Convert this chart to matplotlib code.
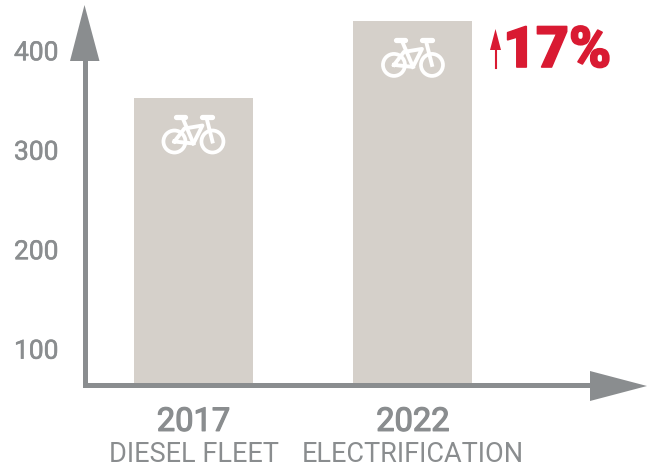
import matplotlib
matplotlib.use("Agg")
import matplotlib.pyplot as plt
import matplotlib.patheffects as pe
from matplotlib.lines import Line2D
from matplotlib.patches import Circle, Polygon
from matplotlib.transforms import Affine2D

# Data
years = ["2017", "2022"]
fleets = ["DIESEL FLEET", "ELECTRIFICATION"]
values = [353, 430]
y_ticks = [100, 200, 300, 400]
change_label = "17%"

# Colors
BAR = "#d5d0ca"
GREY = "#8a8d8f"
RED = "#d91a32"

W, H = 652, 467

plt.rcParams["font.family"] = ["Roboto", "DejaVu Sans"]

fig = plt.figure(figsize=(W / 100, H / 100), dpi=100, facecolor="white")
# axes box in pixels, measured from the top left
left, right, top, bottom = 85, 645, 5, 385
ax = fig.add_axes([left / W, 1 - bottom / H, (right - left) / W, (bottom - top) / H])
ax.set_xlim(-0.494, 2.057)
ax.set_ylim(64, 446)
ax.patch.set_visible(False)

ax.bar(range(len(values)), values, width=0.542, color=BAR, zorder=1)

for side in ["top", "right"]:
    ax.spines[side].set_visible(False)
for side in ["left", "bottom"]:
    ax.spines[side].set_color(GREY)
    ax.spines[side].set_linewidth(3.6)
    ax.spines[side].set_zorder(3)
# stop the axis lines inside the arrow heads
ax.spines["left"].set_bounds(64, 400)
ax.spines["bottom"].set_bounds(-0.494, 1.85)

ax.set_yticks(y_ticks)
ax.set_yticklabels([str(t) for t in y_ticks], fontsize=19, color=GREY)
ax.tick_params(axis="y", length=0, pad=19)
ax.set_xticks(range(len(years)))
ax.set_xticklabels(years, fontsize=23.5, color=GREY)
ax.tick_params(axis="x", length=0, pad=15)

# the reference digits are a bit heavier than regular Roboto
for label in ax.get_yticklabels():
    label.set_path_effects([pe.withStroke(linewidth=0.4, foreground=GREY)])
for label in ax.get_xticklabels():
    label.set_path_effects([pe.withStroke(linewidth=0.9, foreground=GREY)])


def px(x, y):
    # pixel position from the top left, to figure coordinates
    return (x / W, 1 - y / H)


# Axis arrow heads
fig.add_artist(Polygon([px(84.5, 5), px(70, 61), px(99.5, 61)], closed=True,
                       transform=fig.transFigure, color=GREY, lw=0))
fig.add_artist(Polygon([px(647, 386), px(590, 371), px(590, 401)], closed=True,
                       transform=fig.transFigure, color=GREY, lw=0))

# Fleet captions under the years
for i, name in enumerate(fleets):
    ax.annotate(name, xy=(i, 0), xycoords=ax.get_xaxis_transform(), xytext=(0, -70),
                textcoords="offset pixels", ha="center", va="center",
                fontsize=19.5, color=GREY, annotation_clip=False)


def draw_bike(cx, cy):
    # small bicycle icon, units are pixels around the icon centre, y down
    tr = Affine2D().scale(1, -1).translate(cx, cy)
    for wx in [-19, 19]:
        fig.add_artist(Circle((wx, 10), 11, transform=tr, fill=False, ec="white", lw=2.7))
    frame = [
        [(-19, 10), (-9, -3), (9, -6), (0, 12), (-19, 10)],
        [(-11, -14), (0, 12)],
        [(13, -14), (19, 10)],
    ]
    for seg in frame:
        xs, ys = zip(*seg)
        fig.add_artist(Line2D(xs, ys, transform=tr, color="white", lw=2.8))
    for seg in [[(-17, -15), (-8, -15)], [(9, -15), (19, -15)]]:
        xs, ys = zip(*seg)
        fig.add_artist(Line2D(xs, ys, transform=tr, color="white", lw=3.8,
                              solid_capstyle="round"))


fig.canvas.draw()
for i, v in enumerate(values):
    x_d, y_d = ax.transData.transform((i, v))
    draw_bike(x_d, y_d - 34)

# Change callout, next to the taller bar
fig.text(*px(503, 67), change_label, fontsize=41, color=RED, weight=900,
         ha="left", va="baseline",
         path_effects=[pe.withStroke(linewidth=1.2, foreground=RED)])
fig.add_artist(Polygon([px(495.5, 29), px(490, 50), px(501, 50)], closed=True,
                       transform=fig.transFigure, color=RED, lw=0))
fig.add_artist(Line2D([495.5 / W, 495.5 / W], [1 - 48 / H, 1 - 68 / H],
                      transform=fig.transFigure, color=RED, lw=1.5))

fig.savefig("out.png", dpi=100)
